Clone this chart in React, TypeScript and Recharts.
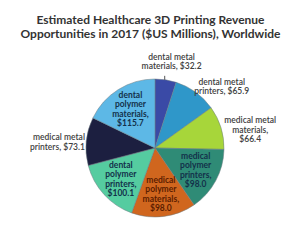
import { Cell, Pie, PieChart } from "recharts"

const categories = [
  "dental metal\nmaterials,",
  "dental metal\nprinters,",
  "medical metal\nmaterials,",
  "medical\npolymer\nprinters,",
  "medical\npolymer\nmaterials,",
  "dental\npolymer\nprinters,",
  "medical metal\nprinters,",
  "dental\npolymer\nmaterials,",
]
const revenue = [32.2, 65.9, 66.4, 98.0, 98.0, 100.1, 73.1, 115.7]
const COLORS = ["#3a4aa6", "#2f97c9", "#a7d63a", "#2f8b76", "#d0661e", "#55cca0", "#1c1f40", "#5db8e6"]

// where each label goes: inside the slice or outside, and whether the value gets its own line
const inside = [false, false, false, true, true, true, false, true]
const valueOwnLine = [false, false, true, true, true, true, false, true]

const data = categories.map((name, i) => ({ name, value: revenue[i] }))

const RAD = Math.PI / 180
const FONT = "Lato, 'Open Sans', sans-serif"

function renderLabel(props: any) {
  const { cx, cy, midAngle, outerRadius, index, value, name } = props
  const lines: string[] = name.split("\n")
  const val = `$${value.toFixed(1)}`
  if (valueOwnLine[index]) lines.push(val)
  else lines[lines.length - 1] = `${lines[lines.length - 1]}  ${val}`
  const cos = Math.cos(-midAngle * RAD)
  const sin = Math.sin(-midAngle * RAD)
  let lh = 9.5
  let size = 8.5
  let x: number, y: number, anchor = "middle", fill = "#404040", weight = 600
  if (inside[index]) {
    const r = outerRadius * 0.67
    x = cx + r * cos
    y = cy + r * sin
    fill = index === 4 ? "#5c1d00" : "#13314a"
    weight = 700
  } else if (index === 0) {
    x = cx + outerRadius * 1.27 * cos + 3
    y = cy + outerRadius * 1.27 * sin
  } else if (index === 1) {
    const r = outerRadius * 1.1
    x = cx + r * cos + 22
    y = cy + r * sin
  } else if (index === 2) {
    const r = outerRadius * 1.05
    x = cx + r * cos + 26
    y = cy + r * sin + 3
  } else {
    const r = outerRadius * 1.02
    x = cx + r * cos
    y = cy + r * sin + 1
    anchor = "end"
    lh = 10
  }
  const top = y - ((lines.length - 1) * lh) / 2
  const edgeX = cx + outerRadius * cos
  const edgeY = cy + outerRadius * sin
  return (
    <g key={`lbl-${index}`}>
      {index === 0 && <line x1={edgeX - 1} y1={edgeY} x2={edgeX - 1} y2={edgeY - 4} stroke="#555" strokeWidth={1} />}
      <text x={x} y={top} textAnchor={anchor} dominantBaseline="central" fontFamily={FONT} fontSize={size} fontWeight={weight} fill={fill}>
        {lines.map((l, i) => (
          <tspan key={i} x={x} dy={i === 0 ? 0 : lh}>
            {l}
          </tspan>
        ))}
      </text>
    </g>
  )
}

export default function App() {
  return (
    <div style={{ position: "absolute", left: 0, top: 0, width: 289, height: 249, background: "#fff" }}>
      <div
        style={{
          position: "absolute",
          left: 0,
          top: 13,
          width: 301,
          textAlign: "center",
          fontFamily: FONT,
          fontWeight: 700,
          fontSize: 12,
          lineHeight: "14px",
          color: "#333",
        }}
      >
        Estimated Healthcare 3D Printing Revenue
        <br />
        Opportunities in 2017 ($US Millions), Worldwide
      </div>
      <div style={{ position: "absolute", left: 0, top: 0 }}>
        <PieChart width={289} height={249}>
          <Pie
            data={data}
            dataKey="value"
            nameKey="name"
            cx={150}
            cy={143}
            outerRadius={69}
            startAngle={90}
            endAngle={-270}
            stroke="#6a7a80"
            strokeWidth={0.5}
            labelLine={false}
            label={renderLabel}
            isAnimationActive={false}
          >
            {data.map((entry, index) => (
              <Cell key={`cell-${index}`} fill={COLORS[index % COLORS.length]} />
            ))}
          </Pie>
        </PieChart>
      </div>
    </div>
  )
}
